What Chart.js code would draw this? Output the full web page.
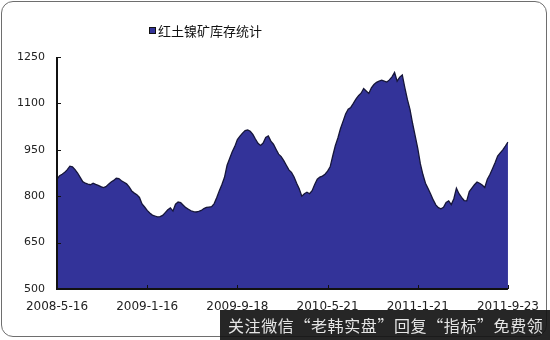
<!DOCTYPE html>
<html>
<head>
<meta charset="utf-8">
<script src="https://cdn.jsdelivr.net/npm/chart.js@4"></script>
<style>
  body { margin: 0; background: #fff; }
  #wrap { position: relative; width: 550px; height: 340px; overflow: hidden; }
  #frame { position: absolute; left: 1px; top: 1px; width: 544px; height: 334px;
           border: 1.5px solid #6e6e6e; border-radius: 12px; }
  #legend { position: absolute; left: 149px; top: 21px; font: 13px "Noto Sans CJK SC", sans-serif;
            color: #111; white-space: nowrap; }
  #legend i { display: inline-block; width: 5px; height: 5px; background: #333399;
              border: 1px solid #111; margin-right: 2px; vertical-align: 2px; }
  #mark { position: absolute; left: 220px; top: 310px; width: 330px; height: 30px;
          background: rgba(20,20,20,0.92); color: #e6e6e6;
          font: 16px "Noto Sans CJK SC", sans-serif; line-height: 30px; padding-left: 8px;
          letter-spacing: 0.6px; box-sizing: border-box; white-space: nowrap; }
  canvas { position: absolute; left: 0; top: 0; }
</style>
</head>
<body>
<div id="wrap">
  <canvas id="myChart" width="550" height="340"></canvas>
  <div id="frame"></div>
  <div id="legend"><i></i>红土镍矿库存统计</div>
  <div id="mark">关注微信“老韩实盘”回复“指标”免费领</div>
</div>
<script>
document.addEventListener("DOMContentLoaded", () => {

    const seriesName = "红土镍矿库存统计";
    const startDate = "2008-05-16";   // weekly data
    const tickEvery = 35;             // label every 35 weeks

    // stock, weekly
    const stock = [
        855, 866, 871, 877, 886, 897, 895, 886, 875, 861,
        847, 842, 839, 837, 842, 838, 835, 831, 828, 831,
        839, 846, 851, 858, 857, 850, 845, 840, 830, 817,
        810, 805, 796, 775, 765, 754, 746, 739, 736, 733,
        734, 738, 747, 756, 762, 752, 774, 781, 779, 771,
        763, 758, 753, 750, 749, 751, 754, 760, 764, 765,
        766, 776, 796, 818, 838, 861, 900, 922, 944, 961,
        983, 994, 1004, 1012, 1014, 1010, 1000, 985, 971, 964,
        972, 990, 995, 978, 968, 952, 936, 928, 915, 900,
        885, 877, 862, 842, 824, 800, 808, 813, 808, 818,
        838, 855, 862, 865, 871, 881, 895, 930, 963, 988,
        1018, 1042, 1066, 1081, 1087, 1100, 1114, 1125, 1133, 1148,
        1140, 1132, 1150, 1161, 1168, 1172, 1175, 1172, 1169, 1176,
        1186, 1200, 1172, 1185, 1192, 1150, 1112, 1080, 1035, 995,
        955, 905, 870, 842, 825, 807, 788, 772, 763, 759,
        764, 780, 785, 773, 792, 826, 808, 796, 786, 785,
        815, 826, 837, 846, 842, 836, 828, 855, 870, 889,
        908, 930, 940, 950, 962, 975
    ];

    // week labels like 2008-5-16
    const weeks = [];
    const d0 = new Date(startDate + "T00:00:00Z");
    for (let i = 0; i < stock.length; i++) {
        const d = new Date(d0.getTime() + i * 7 * 86400000);
        weeks.push(d.getUTCFullYear() + "-" + (d.getUTCMonth() + 1) + "-" + d.getUTCDate());
    }

    // axis lines + small inside ticks, drawn over the area fill
    const axesOnTop = {
        id: "axesOnTop",
        afterDatasetsDraw(chart) {
            const c = chart.ctx, a = chart.chartArea;
            const xs = chart.scales.x, ys = chart.scales.y;
            c.save();
            c.strokeStyle = "#111";
            c.lineWidth = 2;
            c.beginPath();
            c.moveTo(a.left, a.top);
            c.lineTo(a.left, a.bottom);
            c.lineTo(a.right, a.bottom);
            c.stroke();
            c.lineWidth = 1;
            c.beginPath();
            ys.ticks.forEach((t) => {
                const y = Math.round(ys.getPixelForValue(t.value)) + 0.5;
                c.moveTo(a.left, y); c.lineTo(a.left + 4, y);
            });
            for (let i = 0; i < weeks.length; i += tickEvery) {
                const x = Math.round(xs.getPixelForValue(i)) + 0.5;
                c.moveTo(x, a.bottom); c.lineTo(x, a.bottom - 4);
            }
            c.stroke();
            c.restore();
        }
    };

    const ctx = document.getElementById("myChart").getContext("2d");

    new Chart(ctx, {
        type: "line",
        data: {
            labels: weeks,
            datasets: [{
                label: seriesName,
                data: stock,
                backgroundColor: "#333399",
                borderColor: "#16163a",
                borderWidth: 1.3,
                fill: "start",
                pointRadius: 0,
                tension: 0
            }]
        },
        options: {
            responsive: false,
            animation: false,
            layout: { padding: { top: 57, right: 41, left: 0, bottom: 0 } },
            plugins: {
                legend: { display: false },
                tooltip: { enabled: false }
            },
            scales: {
                x: {
                    grid: { display: false, drawTicks: false },
                    border: { display: false },
                    ticks: {
                        autoSkip: false,
                        maxRotation: 0,
                        padding: 11,
                        color: "#222",
                        font: { family: "DejaVu Sans", size: 12 },
                        callback: function(v, i) { return i % tickEvery === 0 ? this.getLabelForValue(v) : null; }
                    },
                    afterFit: (s) => { s.height = 51; }
                },
                y: {
                    min: 500,
                    max: 1250,
                    grid: { display: false, drawTicks: false },
                    border: { display: false },
                    ticks: {
                        stepSize: 150,
                        padding: 12,
                        color: "#222",
                        font: { family: "DejaVu Sans", size: 11 },
                        callback: (v) => String(v)
                    },
                    afterFit: (s) => { s.width = 57; }
                }
            }
        },
        plugins: [axesOnTop]
    });
})
</script>
</body>
</html>
